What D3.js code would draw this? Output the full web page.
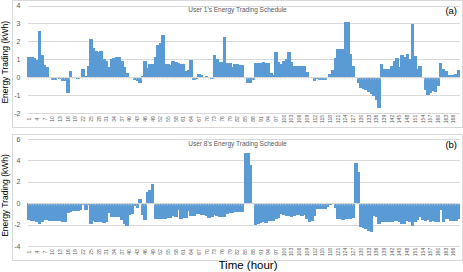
<!DOCTYPE html>
<html>
<head>
<meta charset="utf-8">
<style>
body { margin:0; background:#fff; }
svg { display:block; font-family:"Liberation Sans", Arial, sans-serif; }
</style>
</head>
<body>
<div id="chart"></div>
<script src="https://d3js.org/d3.v7.min.js"></script>
<script>

// hours 1..168
var hours = d3.range(1, 169);

// User 1 energy trading per hour (kWh)
var user1 = [
 1.1, 1.1, 1.05, 0.95, 2.58, 1.23, 0.7, 0.58, -0.05, -0.15,
 -0.15, -0.05, -0.08, -0.22, -0.22, -0.88, 0.33, 0.02, -0.06, -0.08,
 -0.03, 0.47, 0.05, 0.63, 2.13, 1.65, 1.46, 1.4, 1.44, 1.03,
 0.93, 0.58, 1.0, 1.07, 1.1, 1.1, 0.9, 0.58, 0.26, 0.0,
 0.0, -0.18, -0.2, -0.3, 0.04, 0.88, 0.5, 0.75, 0.76, 1.15,
 1.78, 1.88, 2.35, 0.76, 0.74, 0.7, 0.88, 0.86, 0.78, 0.73,
 0.73, 0.35, 0.4, 0.95, -0.18, -0.1, 0.17, 0.1, -0.02, 0.08,
 0.02, -0.08, 1.25, 1.0, 0.87, 0.85, 2.26, 0.78, 0.77, 0.58,
 0.71, 0.71, 0.7, 0.7, -0.02, -0.35, -0.35, -0.17, 0.8, 0.8,
 0.8, 0.82, 0.79, 0.77, 0.25, 0.13, 1.42, 0.84, 0.71, 0.9,
 1.0, 1.38, 0.82, 0.6, 0.65, 0.63, 0.62, 0.63, 0.28, -0.03,
 -0.04, -0.24, -0.1, -0.17, -0.17, -0.15, 0.0, 0.2, 0.39, 1.05,
 1.55, 1.55, 1.6, 3.1, 3.07, 1.29, 0.64, -0.04, -0.32, -0.58,
 -0.64, -0.7, -0.82, -0.95, -1.07, -1.29, -1.7, 0.71, 0.47, 0.47,
 0.47, 0.65, 0.9, 1.08, 0.58, 1.23, 1.12, 1.29, 1.0, 2.95,
 1.18, 0.43, 0.65, 0.0, -0.73, -1.0, -0.88, -0.77, -0.82, -0.5,
 0.77, 0.45, 0.34, 0.11, 0.1, 0.13, 0.2, 0.41
];

// User 8 energy trading per hour (kWh)
var user8 = [
 -1.6, -1.63, -1.7, -1.8, -1.9, -1.75, -1.6, -1.6, -1.65, -1.68,
 -1.7, -1.68, -1.65, -1.78, -1.8, -0.88, -0.78, -0.72, -0.75, -0.75,
 -0.66, -0.2, -0.66, -0.2, -1.9, -1.7, -1.78, -1.72, -1.78, -1.88,
 -1.8, -0.9, -1.28, -1.28, -1.28, -1.3, -1.6, -1.9, -2.12, -1.12,
 -0.97, -0.28, -0.44, 0.35, -1.12, -1.6, 1.06, 1.22, 1.84, -1.44,
 -1.5, -1.5, -1.47, -1.44, -1.38, -1.38, -1.22, -1.25, -0.66, -1.44,
 -1.38, -1.38, -0.75, -1.22, -1.22, -1.03, -0.97, -1.12, -1.12, -1.19,
 -1.34, -1.28, -1.12, -1.19, -1.25, -1.28, -1.28, -1.03, -0.94, -0.88,
 -0.81, -0.81, -0.81, -0.81, 4.73, 4.65, 3.56, -0.1, -2.0, -1.94,
 -1.84, -1.75, -1.84, -1.7, -1.7, -1.63, -1.44, -1.34, -0.97, -1.12,
 -1.19, -1.22, -1.25, -1.16, -1.1, -1.12, -1.16, -1.12, -1.44, -1.8,
 -1.7, -1.19, -0.56, -0.56, -0.56, -0.5, -0.34, -0.19, -0.06, -0.44,
 -1.5, -1.44, -1.53, -1.44, -1.44, -1.44, -1.38, 3.8, 2.94, -2.2,
 -2.3, -2.38, -2.62, -2.7, -1.22, -1.28, -1.9, -1.8, -1.8, -1.78,
 -1.75, -1.75, -1.7, -1.7, -1.8, -1.9, -1.9, -1.7, -1.8, -2.12,
 -1.8, -1.53, -1.28, -1.6, -1.7, -1.6, -1.75, -1.7, -1.8, -1.8,
 -0.66, -1.8, -1.44, -1.44, -1.7, -1.7, -1.65, -1.5
];

var ticks1 = [-2, -1, 0, 1, 2, 3, 4];
var ticks8 = [-4, -2, 0, 2, 4, 6];

// labelled hours: 1, 4, 7, ... 166
var hourLabels = hours.filter(function(h){ return (h - 1) % 3 == 0; });

var W = 463, H = 272;
var barcolor = "#5B9BD5";
var gridcolor = "#D9D9D9";
var labelcolor = "#595959";

var svg = d3.select("#chart").append("svg")
   .attr("width", W)
   .attr("height", H);

// shared category scale
var x = d3.scaleBand()
   .domain(hours)
   .range([28, 460])
   .paddingInner(0);

drawPanel(0, user1, [-2, 4], [113, 5.5], ticks1, "User 1's Energy Trading Schedule", "(a)", 119);
drawPanel(134, user8, [-4, 6], [246, 139], ticks8, "User 8's Energy Trading Schedule", "(b)", 252);

// x axis title
svg.append("text")
   .text("Time (hour)")
   .attr("x", 248)
   .attr("y", 268.5)
   .style("font-size", "11.5px")
   .style("fill", "#000")
   .style("text-anchor", "middle");

function drawPanel(top, values, domain, range, ticks, title, letter, labelY)
{
  var bottom = top == 0 ? 127 : 260;

  // chart border
  svg.append("rect")
     .attr("x", 12.5)
     .attr("y", top + 0.5)
     .attr("width", 450)
     .attr("height", bottom - top)
     .style("fill", "none")
     .style("stroke", gridcolor)
     .style("stroke-width", 1);

  var y = d3.scaleLinear().domain(domain).range(range);

  // gridlines
  svg.append("g")
     .selectAll("line")
     .data(ticks.filter(function(t){ return t != 0; }))
     .join("line")
     .attr("x1", x.range()[0])
     .attr("x2", x.range()[1])
     .attr("y1", function(d){ return Math.round(y(d)) + 0.5; })
     .attr("y2", function(d){ return Math.round(y(d)) + 0.5; })
     .style("stroke", gridcolor)
     .style("stroke-width", 1);

  // y tick labels
  svg.append("g")
     .selectAll("text")
     .data(ticks)
     .join("text")
     .text(function(d){ return d; })
     .attr("x", 20.5)
     .attr("y", function(d){ return y(d) + 2.5; })
     .style("font-size", "7px")
     .style("fill", labelcolor)
     .style("text-anchor", "end");

  // bars, snapped to whole pixels so neighbours join up
  svg.append("g")
     .attr("shape-rendering", "crispEdges")
     .selectAll("rect")
     .data(values)
     .join("rect")
     .attr("x", function(d, i){ return Math.floor(x(hours[i])); })
     .attr("width", function(d, i){
        return Math.ceil(x(hours[i]) + x.bandwidth()) - Math.floor(x(hours[i]));
     })
     .attr("y", function(d){ return y(Math.max(0, d)); })
     .attr("height", function(d){ return Math.abs(y(d) - y(0)); })
     .style("fill", barcolor);

  // zero axis line with small ticks
  var y0 = Math.round(y(0)) + 0.5;
  svg.append("line")
     .attr("x1", x.range()[0])
     .attr("x2", x.range()[1])
     .attr("y1", y0)
     .attr("y2", y0)
     .style("stroke", gridcolor)
     .style("stroke-width", 1);
  svg.append("g")
     .selectAll("line")
     .data(hours)
     .join("line")
     .attr("x1", function(d){ return x(d) + 0.5; })
     .attr("x2", function(d){ return x(d) + 0.5; })
     .attr("y1", y0)
     .attr("y2", y0 + 2)
     .style("stroke", gridcolor)
     .style("stroke-width", 0.6);

  // hour labels, rotated
  svg.append("g")
     .selectAll("text")
     .data(hourLabels)
     .join("text")
     .text(function(d){ return d; })
     .attr("transform", function(d){
        return "translate(" + (x(d) + x.bandwidth() / 2 + 1.8) + "," + labelY + ") rotate(-90)";
     })
     .style("font-size", "5px")
     .style("fill", labelcolor)
     .style("text-anchor", "middle");

  // y axis title
  svg.append("text")
     .text("Energy Trading (kWh)")
     .attr("transform", "translate(8," + ((range[0] + range[1]) / 2 + 3) + ") rotate(-90)")
     .style("font-size", "8.5px")
     .style("fill", "#000")
     .style("text-anchor", "middle");

  // panel title
  svg.append("text")
     .text(title)
     .attr("x", 237.5)
     .attr("y", top + 12)
     .style("font-size", "6.5px")
     .style("fill", labelcolor)
     .style("text-anchor", "middle");

  // panel letter
  svg.append("text")
     .text(letter)
     .attr("x", 457)
     .attr("y", top + 14)
     .style("font-size", "9.5px")
     .style("fill", "#000")
     .style("text-anchor", "end");
}

</script>
</body>
</html>
